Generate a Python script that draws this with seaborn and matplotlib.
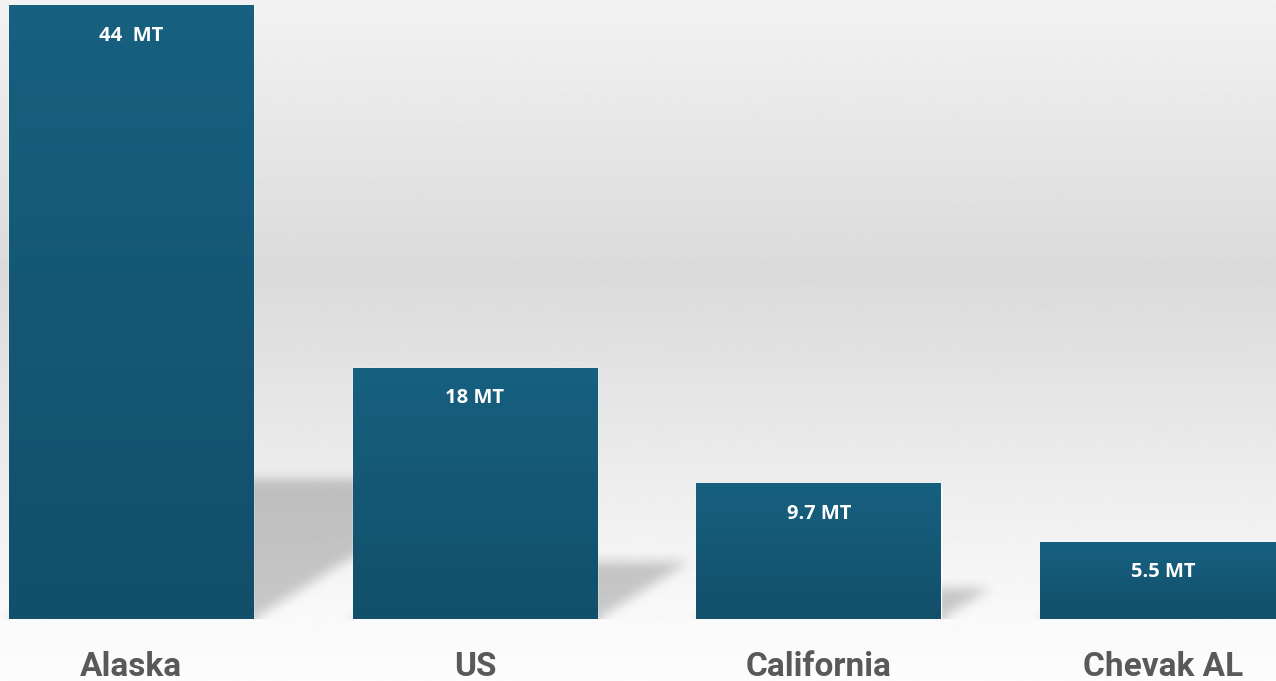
import numpy as np
import matplotlib.pyplot as plt
import seaborn as sns

# values
regions = ['Alaska', 'US', 'California', 'Chevak AL']
values = [44, 18, 9.7, 5.5]
value_labels = ['44  MT', '18 MT', '9.7 MT', '5.5 MT']

sns.set_theme(style='white')
plt.rcParams['font.family'] = ['Open Sans', 'DejaVu Sans']

W, H = 1276, 681
fig = plt.figure(figsize=(W / 100, H / 100), dpi=100)

# soft grey background gradient (light top, grey middle, near white bottom)
bg = fig.add_axes([0, 0, 1, 1], zorder=0)
yy = np.linspace(0, 1, 500)
grey = np.interp(yy, [0, 0.4, 0.9, 1.0], [0.95, 0.855, 0.975, 0.99])
bg.imshow(np.repeat(grey[:, None], 2, axis=1), cmap='gray', vmin=0, vmax=1,
          aspect='auto', extent=(0, 1, 1, 0))
bg.set_axis_off()

base_px = 62
ax = fig.add_axes([0, base_px / H, 1, (H - base_px) / H], zorder=1)
ax.set_facecolor('none')

sns.barplot(x=regions, y=values, color='#165e7e', width=0.712, saturation=1,
            ax=ax, zorder=2)

xlim = (-0.381, 3.329)
ylim = (0, 44.43)

# perspective drop shadows, computed from bar geometry and blurred
nx, ny = W, H - base_px
sx = nx / (xlim[1] - xlim[0])
sy = ny / (ylim[1] - ylim[0])
mask = np.zeros((ny, nx))
px = np.arange(nx)
for p in ax.patches:
    xl = (p.get_x() - xlim[0]) * sx
    xr = (p.get_x() + p.get_width() - xlim[0]) * sx
    hs = p.get_height() * sy * 0.23
    for r in range(int(hs)):
        row = ny - 1 - r
        shift = 1.6 * r
        mask[row, (px >= xl + shift) & (px <= xr + shift)] = 1.0


def box_blur(a, k, axis):
    pad = [(0, 0), (0, 0)]
    pad[axis] = (k, k)
    b = np.pad(a, pad, mode='edge')
    c = np.cumsum(b, axis=axis)
    c = np.insert(c, 0, 0, axis=axis)
    n = a.shape[axis]
    hi = np.take(c, np.arange(2 * k + 1, 2 * k + 1 + n), axis=axis)
    lo = np.take(c, np.arange(0, n), axis=axis)
    return (hi - lo) / (2 * k + 1)


for _ in range(3):
    mask = box_blur(mask, 5, 0)
    mask = box_blur(mask, 5, 1)

shadow = np.zeros((ny, nx, 4))
shadow[..., 3] = mask * 0.2
ax.imshow(shadow, extent=(xlim[0], xlim[1], ylim[0], ylim[1]), aspect='auto',
          zorder=1, interpolation='bilinear')

# vertical gradient fill on each bar
top_c = np.array([23, 96, 128]) / 255
bot_c = np.array([18, 79, 107]) / 255
t = np.linspace(0, 1, 200)[:, None]
grad = (top_c * (1 - t) + bot_c * t)[:, None, :]
grad = np.repeat(grad, 2, axis=1)
for p in ax.patches:
    x0 = p.get_x()
    ax.imshow(grad, extent=(x0, x0 + p.get_width(), 0, p.get_height()),
              aspect='auto', zorder=3)

for i, (v, lab) in enumerate(zip(values, value_labels)):
    ax.text(i, v - 30 / sy, lab, ha='center', va='center', color='white',
            fontsize=14.5, fontweight='bold', zorder=4)

ax.set_xlim(*xlim)
ax.set_ylim(*ylim)
ax.set_xlabel('')
ax.set_ylabel('')
ax.set_yticks([])
ax.tick_params(axis='x', length=0, pad=23)
for tl in ax.get_xticklabels():
    tl.set_fontsize(24)
    tl.set_fontweight('bold')
    tl.set_color('#595959')
    tl.set_family(['Roboto', 'DejaVu Sans'])
sns.despine(ax=ax, left=True, bottom=True)

fig.savefig('out.png', dpi=100)
